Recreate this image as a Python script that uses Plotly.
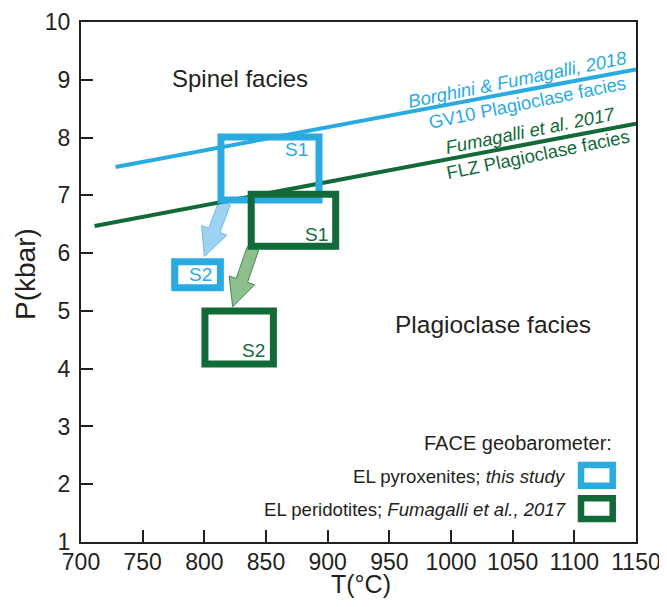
import numpy as np
import plotly.graph_objects as go

# ---------------- data ----------------
temp_ticks = [700, 750, 800, 850, 900, 950, 1000, 1050, 1100, 1150]
pressure_ticks = [1, 2, 3, 4, 5, 6, 7, 8, 9, 10]

# Plagioclase-in boundaries (T in °C, P in kbar)
gv10_T = [728, 1150]
gv10_P = [7.49, 9.18]
flz_T = [711, 1150]
flz_P = [6.47, 8.24]

# FACE geobarometer boxes: [T_min, T_max, P_min, P_max]
pyrox_S1 = [813.5, 893.0, 6.92, 8.01]
pyrox_S2 = [776.0, 813.0, 5.40, 5.85]
perid_S1 = [838.0, 906.5, 6.12, 7.02]
perid_S2 = [800.5, 856.0, 4.08, 5.00]

# arrows (start -> tip)
pyrox_arrow = [(816.5, 6.87), (800.0, 5.94)]
perid_arrow = [(839.4, 6.08), (823.0, 5.07)]

# ---------------- style ----------------
BLUE = "#29abe2"
GREEN = "#116a38"
DARK = "#231f20"
FONT = "Liberation Sans, Arial, sans-serif"

OFF = 8  # page body margin
W, H = 667 - OFF, 607 - 2 * OFF
PL, PT, PR, PB = 81, 22, 636, 542          # plot area in page pixels
PW, PH = PR - PL, PB - PT
ML, MT = PL - OFF, PT - OFF
MR, MB = W - ML - PW, H - MT - PH
XR, YR = [700, 1150], [1, 10]
sx = PW / (XR[1] - XR[0])
sy = PH / (YR[1] - YR[0])

fig = go.Figure()


def arrow_poly(start, tip, shaft_w, head_w, head_l):
    s = np.array([(start[0] - XR[0]) * sx, (start[1] - YR[0]) * sy])
    t = np.array([(tip[0] - XR[0]) * sx, (tip[1] - YR[0]) * sy])
    u = (t - s) / np.linalg.norm(t - s)
    n = np.array([-u[1], u[0]])
    b = t - u * head_l
    pts = [s + n * shaft_w / 2, b + n * shaft_w / 2, b + n * head_w / 2, t,
           b - n * head_w / 2, b - n * shaft_w / 2, s - n * shaft_w / 2, s + n * shaft_w / 2]
    xs = [p[0] / sx + XR[0] for p in pts]
    ys = [p[1] / sy + YR[0] for p in pts]
    return xs, ys


for arr, fill, edge in [(pyrox_arrow, "#9dd2f1", "#6cbde9"),
                        (perid_arrow, "#8dbf8e", "#3f8a52")]:
    ax_, ay_ = arrow_poly(arr[0], arr[1], 12, 27, 28)
    fig.add_trace(go.Scatter(x=ax_, y=ay_, mode="lines", fill="toself",
                             fillcolor=fill, line=dict(color=edge, width=1),
                             hoverinfo="skip", showlegend=False))

fig.add_trace(go.Scatter(x=gv10_T, y=gv10_P, mode="lines",
                         line=dict(color=BLUE, width=4), showlegend=False))
fig.add_trace(go.Scatter(x=flz_T, y=flz_P, mode="lines",
                         line=dict(color=GREEN, width=4), showlegend=False))

shapes = []
for box, col in [(pyrox_S1, BLUE), (pyrox_S2, BLUE), (perid_S1, GREEN), (perid_S2, GREEN)]:
    shapes.append(dict(type="rect", xref="x", yref="y", x0=box[0], x1=box[1],
                       y0=box[2], y1=box[3], line=dict(color=col, width=7),
                       fillcolor="rgba(0,0,0,0)", layer="above"))


def px2paper_x(px):
    return (px - PL) / PW


def px2paper_y(py):
    return 1 - (py - PT) / PH


for col, y0, y1 in [(BLUE, 465.0, 485.7), (GREEN, 498.3, 519.0)]:
    shapes.append(dict(type="rect", xref="paper", yref="paper",
                       x0=px2paper_x(581), x1=px2paper_x(612.7),
                       y0=px2paper_y(y1), y1=px2paper_y(y0),
                       line=dict(color=col, width=6.5), fillcolor="white", layer="above"))

ann = []


def add_text(x, y, text, size, color, xanchor="center", angle=0, xref="x", yref="y"):
    ann.append(dict(x=x, y=y, xref=xref, yref=yref, text=text, showarrow=False,
                    xanchor=xanchor, yanchor="middle", textangle=angle,
                    font=dict(family=FONT, size=size, color=color)))


add_text(829, 9.02, "Spinel facies", 24, DARK)
add_text(1034.4, 4.76, "Plagioclase facies", 24.5, DARK)

add_text(1053.6, 9.01, "<i>Borghini & Fumagalli, 2018</i>", 18.5, BLUE, angle=-11.5)
add_text(1061.7, 8.61, "GV10 Plagioclase facies", 18.5, BLUE, angle=-11.5)
add_text(1064.4, 8.12, "<i>Fumagalli et al. 2017</i>", 18.5, GREEN, angle=-11.5)
add_text(1070.3, 7.70, "FLZ Plagioclase facies", 18.5, GREEN, angle=-11.5)

add_text(886.0, 7.79, "S1", 19, BLUE, xanchor="right")
add_text(902.2, 6.33, "S1", 19, GREEN, xanchor="right")
add_text(807.5, 5.63, "S2", 19, BLUE, xanchor="right")
add_text(851.0, 4.32, "S2", 19, GREEN, xanchor="right")

add_text(px2paper_x(614), px2paper_y(443.3), "FACE geobarometer:", 20, DARK,
         xanchor="right", xref="paper", yref="paper")
add_text(px2paper_x(568.3), px2paper_y(476), "EL pyroxenites; <i>this study</i>", 18.6, DARK,
         xanchor="right", xref="paper", yref="paper")
add_text(px2paper_x(568.3), px2paper_y(509), "EL peridotites; <i>Fumagalli et al., 2017</i>", 18.6, DARK,
         xanchor="right", xref="paper", yref="paper")

# axis titles
ann.append(dict(x=px2paper_x(361.5), y=px2paper_y(599), xref="paper", yref="paper",
                text="T(°C)", showarrow=False, xanchor="center", yanchor="bottom",
                borderpad=0, font=dict(family=FONT, size=25, color=DARK)))
ann.append(dict(x=px2paper_x(25), y=px2paper_y(274), xref="paper", yref="paper",
                text="P(kbar)", showarrow=False, xanchor="center", yanchor="middle",
                textangle=-90, font=dict(family=FONT, size=28, color=DARK)))

axis_common = dict(showgrid=False, zeroline=False, showline=True, mirror=True,
                   linecolor=DARK, linewidth=2, ticks="inside", ticklen=12,
                   tickwidth=2, tickcolor=DARK, automargin=False,
                   tickfont=dict(family=FONT, size=23, color=DARK))

fig.update_layout(
    width=W, height=H,
    margin=dict(l=ML, r=MR, t=MT, b=MB, pad=0, autoexpand=False),
    paper_bgcolor="white", plot_bgcolor="white",
    xaxis=dict(range=XR, tickvals=temp_ticks, ticktext=[str(t) for t in temp_ticks],
               ticklabeloverflow="allow", ticklabelstandoff=-2, **axis_common),
    yaxis=dict(range=YR, tickvals=pressure_ticks, ticktext=[str(p) for p in pressure_ticks],
               ticklabelstandoff=4, **axis_common),
    shapes=shapes,
    annotations=ann,
    showlegend=False,
)

fig.write_html("out.html")
